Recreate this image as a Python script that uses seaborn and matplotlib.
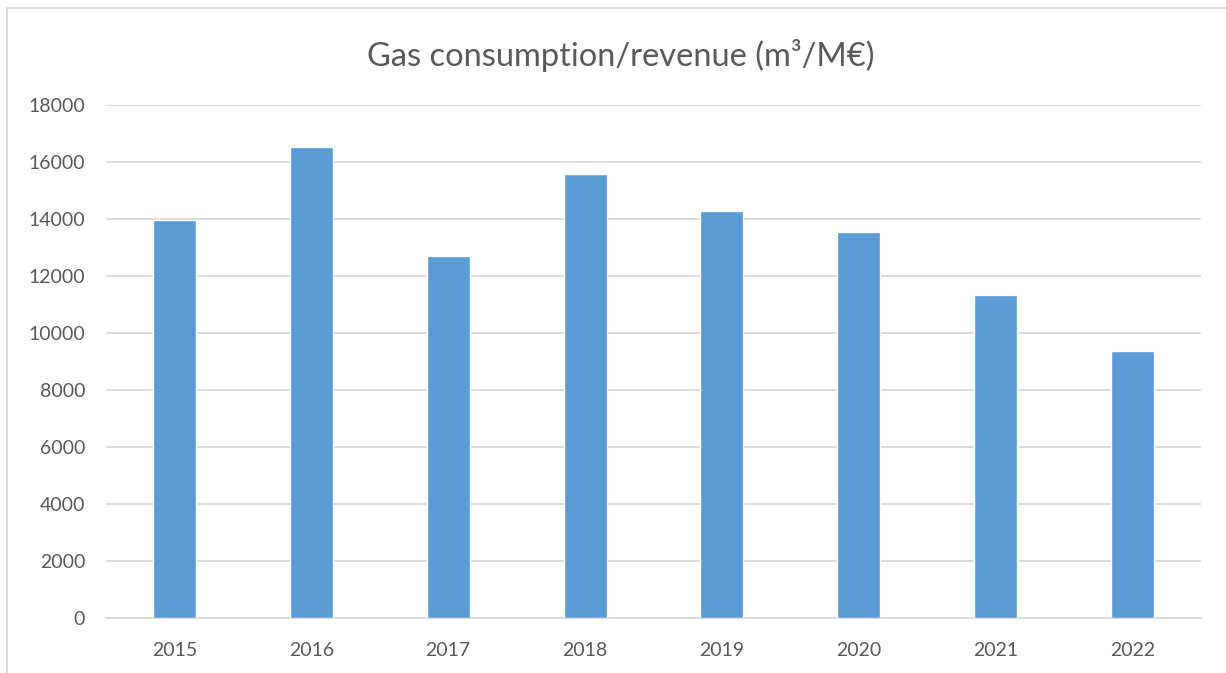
import matplotlib
matplotlib.use("Agg")
import matplotlib.pyplot as plt
from matplotlib.patches import Rectangle
import seaborn as sns
import pandas as pd

years = ["2015", "2016", "2017", "2018", "2019", "2020", "2021", "2022"]
gas_per_revenue = [13950, 16520, 12690, 15570, 14265, 13550, 11320, 9375]
y_ticks = [0, 2000, 4000, 6000, 8000, 10000, 12000, 14000, 16000, 18000]

BAR = "#5B9BD5"
GRID = "#D9D9D9"
TEXT = "#595959"

sns.set_theme(style="white")
plt.rcParams["font.family"] = ["Lato", "DejaVu Sans"]

df = pd.DataFrame({"year": years, "value": gas_per_revenue})

fig = plt.figure(figsize=(12.26, 6.73), dpi=100)
ax = fig.add_axes([106 / 1226, 55 / 673, 1095 / 1226, 513 / 673])

sns.barplot(data=df, x="year", y="value", color=BAR, width=0.314,
            saturation=1, ax=ax, zorder=3)

ax.set_ylim(0, 18000)
ax.set_xlim(-0.5, len(years) - 0.5)
ax.set_yticks(y_ticks)
ax.set_yticklabels([str(t) for t in y_ticks])
ax.yaxis.grid(True, color=GRID, linewidth=1.3, zorder=0)
ax.set_axisbelow(True)
for side in ["top", "right", "left"]:
    ax.spines[side].set_visible(False)
ax.spines["bottom"].set_color(GRID)
ax.spines["bottom"].set_linewidth(1.3)
ax.tick_params(axis="both", length=0, labelsize=14, labelcolor=TEXT)
ax.tick_params(axis="y", pad=15)
ax.tick_params(axis="x", pad=17)
ax.set_xlabel("")
ax.set_ylabel("")

fig.text(0.506, 0.918, "Gas consumption/revenue (m³/M€)", ha="center", va="center",
         fontsize=23.5, color=TEXT)

# chart border like the spreadsheet frame
fig.patches.append(Rectangle((7 / 1226, -0.01), 1.02, 1 - 8 / 673 + 0.01,
                             transform=fig.transFigure, fill=False,
                             edgecolor=GRID, linewidth=1.2))

fig.savefig("out.png", dpi=100)
